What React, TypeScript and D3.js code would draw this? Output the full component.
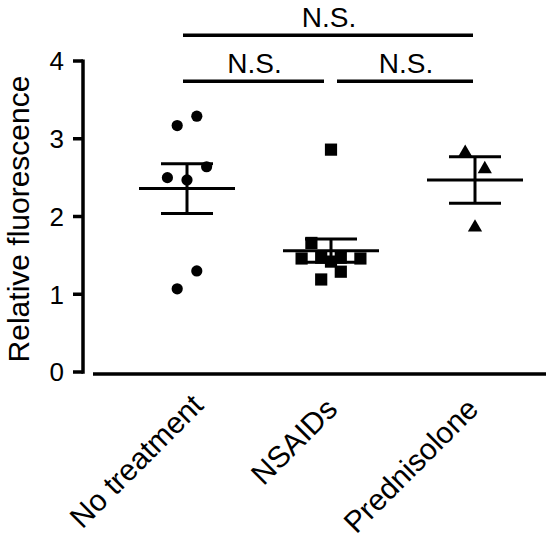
import React from 'react';
import * as d3 from 'd3';

// groups and measured values (relative fluorescence)
const groups = ['No treatment', 'NSAIDs', 'Prednisolone'];
const noTreatment = [3.17, 3.29, 2.5, 2.47, 2.64, 1.3, 1.07];
const nsaids = [2.86, 1.66, 1.46, 1.47, 1.42, 1.47, 1.46, 1.19, 1.29];
const prednisolone = [2.82, 2.61, 1.86];

// horizontal scatter slots of each point inside its column
const noTreatmentSlots = [-1, 1, -2, 0, 2, 1, -1];
const nsaidsSlots = [0, -2, -3, -1, 0, 1, 3, -1, 1];
const prednisoloneSlots = [-1, 1, 0];

// mean and SEM per group
const means = [2.36, 1.56, 2.47];
const sems = [0.32, 0.15, 0.3];

const yTicks = [0, 1, 2, 3, 4];

// significance brackets
const bracketFrom = [0, 0, 1];
const bracketTo = [2, 1, 2];
const bracketLevel = [4.33, 3.74, 3.74];
const bracketLabel = ['N.S.', 'N.S.', 'N.S.'];

const width = 550;
const height = 538;
const font = '"Liberation Sans", Arial, Helvetica, sans-serif';
// small hand nudges of the rotated category labels
const labelDx = [18, 8, 5];
const labelDy = [33, 37, 37];

const App: React.FC = () => {
  const y = d3.scaleLinear().domain([0, 4]).range([372, 61]);
  const x = d3.scalePoint<string>().domain(groups).range([187, 475]);

  const axisX = 83;
  const baseY = 374;
  const slotW = 9.8;
  const meanHalf = 48;
  const capHalf = 26;

  const circle = d3.symbol().type(d3.symbolCircle).size(Math.PI * 5.6 * 5.6)();
  const square = d3.symbol().type(d3.symbolSquare).size(12.2 * 12.2)();
  const triangle = d3.symbol().type(d3.symbolTriangle).size(88)();

  const series = [
    { values: noTreatment, slots: noTreatmentSlots, shape: circle },
    { values: nsaids, slots: nsaidsSlots, shape: square },
    { values: prednisolone, slots: prednisoloneSlots, shape: triangle },
  ];

  return (
    <svg
      width={width}
      height={height}
      style={{ position: 'absolute', left: 0, top: 0, background: '#fff' }}
      fontFamily={font}
    >
      {/* y axis */}
      <line x1={axisX} x2={axisX} y1={y(4) - 1.5} y2={y(0) + 1.75} stroke="#000" strokeWidth={3.5} />
      {yTicks.map((t) => (
        <g key={t}>
          <line x1={73} x2={axisX} y1={y(t)} y2={y(t)} stroke="#000" strokeWidth={3.5} />
          <text x={64} y={y(t)} dy="0.36em" textAnchor="end" fontSize={26}>
            {t}
          </text>
        </g>
      ))}
      <text transform="translate(28.5,219) rotate(-90)" textAnchor="middle" fontSize={30}>
        Relative fluorescence
      </text>

      {/* x axis */}
      <line x1={93} x2={546} y1={baseY} y2={baseY} stroke="#000" strokeWidth={3.5} />
      {groups.map((g, i) => (
        <text
          key={g}
          transform={`translate(${(x(g) as number) + labelDx[i]},${baseY + labelDy[i]}) rotate(-45)`}
          textAnchor="end"
          fontSize={30}
        >
          {g}
        </text>
      ))}

      {/* mean and SEM */}
      {groups.map((g, i) => {
        const cx = x(g) as number;
        return (
          <g key={g} stroke="#000" strokeWidth={3}>
            <line x1={cx - meanHalf} x2={cx + meanHalf} y1={y(means[i])} y2={y(means[i])} />
            <line x1={cx} x2={cx} y1={y(means[i] + sems[i])} y2={y(means[i] - sems[i])} />
            <line x1={cx - capHalf} x2={cx + capHalf} y1={y(means[i] + sems[i])} y2={y(means[i] + sems[i])} />
            <line x1={cx - capHalf} x2={cx + capHalf} y1={y(means[i] - sems[i])} y2={y(means[i] - sems[i])} />
          </g>
        );
      })}

      {/* points */}
      {series.map((s, i) =>
        s.values.map((v, j) => (
          <path
            key={`${i}-${j}`}
            d={s.shape as string}
            transform={`translate(${(x(groups[i]) as number) + s.slots[j] * slotW},${y(v)})`}
            fill="#000"
          />
        ))
      )}

      {/* significance */}
      {bracketFrom.map((f, i) => {
        const t = bracketTo[i];
        const x1 = (x(groups[f]) as number) + (f > 0 ? 6 : -4);
        const x2 = (x(groups[t]) as number) + (t < groups.length - 1 ? -7 : -2);
        const by = y(bracketLevel[i]);
        return (
          <g key={i}>
            <line x1={x1} x2={x2} y1={by} y2={by} stroke="#000" strokeWidth={3.5} />
            <text x={(x1 + x2) / 2 + 1} y={by - 8} textAnchor="middle" fontSize={28}>
              {bracketLabel[i]}
            </text>
          </g>
        );
      })}
    </svg>
  );
};

export default App;
